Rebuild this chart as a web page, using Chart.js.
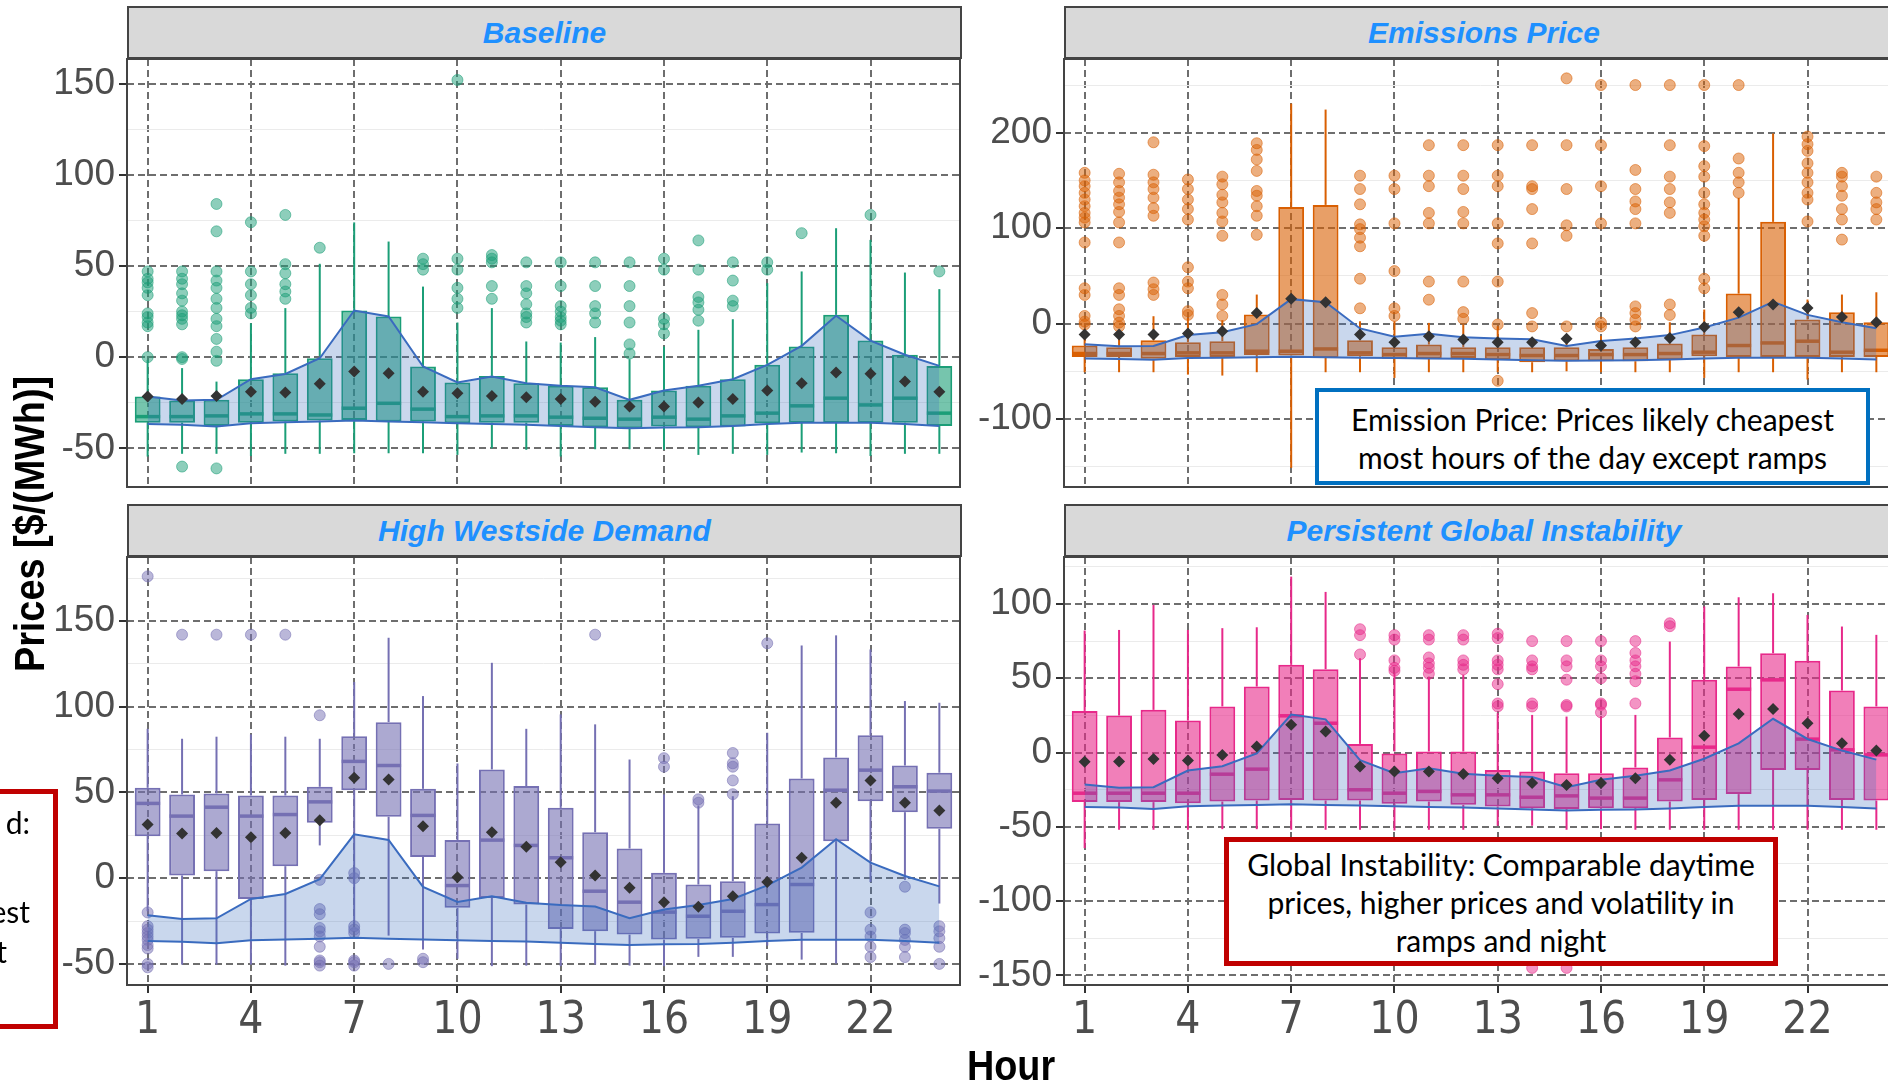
<!DOCTYPE html>
<html>
<head>
<meta charset="utf-8">
<script src="https://cdn.jsdelivr.net/npm/chart.js@4.4.1/dist/chart.umd.min.js"></script>
<style>
  html, body { margin: 0; padding: 0; background: #fff; }
  body { width: 1888px; height: 1086px; overflow: hidden; position: relative; font-family: 'Liberation Sans', Arial, sans-serif; }
  .panel { position: absolute; }
  .strip { position: absolute; height: 53px; background: #d9d9d9; border: 2px solid #444; box-sizing: border-box;
           text-align: center; font: italic bold 30px 'Liberation Sans', Arial, sans-serif; line-height: 49px; color: #1e90ff; }
  .note { position: absolute; background: #fff; box-sizing: border-box; text-align: center; color: #000;
          font: 30px Lato, 'Open Sans', sans-serif; line-height: 38px; }
  .frag { position: absolute; font: 30px Lato, 'Open Sans', sans-serif; line-height: 38px; color: #000; white-space: nowrap; }
  .axtitle { position: absolute; font: bold 42px 'Liberation Sans', Arial, sans-serif; color: #000; white-space: nowrap; }
</style>
</head>
<body>

<div class="strip" style="left:127px;top:6px;width:835px;">Baseline</div>
<div class="strip" style="left:1064px;top:6px;width:840px;">Emissions Price</div>
<div class="strip" style="left:127px;top:504px;width:835px;">High Westside Demand</div>
<div class="strip" style="left:1064px;top:504px;width:840px;">Persistent Global Instability</div>

<div class="panel" style="left:0px;top:57px;width:963px;height:432px;"><canvas id="c-base"></canvas></div>
<div class="panel" style="left:937px;top:57px;width:963px;height:432px;"><canvas id="c-emis"></canvas></div>
<div class="panel" style="left:0px;top:555px;width:963px;height:500px;"><canvas id="c-hwd"></canvas></div>
<div class="panel" style="left:937px;top:555px;width:963px;height:500px;"><canvas id="c-pgi"></canvas></div>

<div class="axtitle" style="left:30px;top:524px;transform:translate(-50%,-50%) rotate(-90deg) scale(0.9,1);">Prices [$/(MWh)]</div>
<div class="axtitle" style="left:1011px;top:1066px;transform:translate(-50%,-50%) scale(0.9,1);">Hour</div>

<div class="note" style="left:1315px;top:388px;width:555px;height:97px;border:4px solid #0070c0;padding-top:8px;">
  Emission Price: Prices likely cheapest<br>most hours of the day except ramps
</div>
<div class="note" style="left:1224px;top:837px;width:554px;height:129px;border:5px solid #c00000;padding-top:3px;">
  Global Instability: Comparable daytime<br>prices, higher prices and volatility in<br>ramps and night
</div>
<div class="note" style="left:-20px;top:789px;width:78px;height:240px;border:5px solid #c00000;background:transparent;"></div>
<div class="frag" style="right:1858px;top:803px;">d:</div>
<div class="frag" style="right:1858px;top:892px;">est</div>
<div class="frag" style="right:1881px;top:932px;">t</div>

<script>
// ---- data ----
var HOURS = [1,2,3,4,5,6,7,8,9,10,11,12,13,14,15,16,17,18,19,20,21,22,23,24];
var HOUR_TICKS = [1,4,7,10,13,16,19,22];

// baseline reference band (same in every panel)
var BAND_HI = [-21.6,-23.8,-23.4,-12.1,-9.2,-0.6,25.6,22.3,-5.1,-13.9,-10.6,-14.3,-15.7,-16.5,-23.4,-18.3,-15.7,-12.1,-4.2,6.2,22.7,9.1,1.3,-4.8];
var BAND_LO = [-36.6,-37.1,-38,-36.2,-35.7,-35.3,-34.8,-35.3,-35.7,-36.2,-36.6,-37,-37.7,-38.4,-39,-38.6,-38.4,-37.7,-36.6,-35.9,-35.9,-35.9,-36.6,-37.7];

// Baseline
var BASE_Q1   = [-35.9,-35.9,-37.7,-35.9,-35.3,-34.8,-34.4,-35.3,-35.3,-36.2,-35.9,-35.9,-37.7,-38.4,-39,-38,-38.4,-38,-36.2,-35.9,-35.9,-35.9,-35.9,-37.7];
var BASE_MED  = [-32.6,-32.6,-32.2,-31.1,-31.1,-31.7,-28,-25.3,-28.5,-32.6,-32.2,-32.2,-32.9,-33.5,-34,-32.9,-34,-32.2,-30.7,-26.7,-22.5,-26.2,-22.5,-30.7];
var BASE_Q3   = [-21.6,-23.8,-23.4,-12.1,-8.8,0,25.6,22.3,-5.1,-13.9,-10.3,-14.3,-15.7,-16.5,-23.4,-18.3,-15.7,-12.1,-4.2,5.8,23.2,9.1,1.3,-4.8];
var BASE_LO   = [-54.5,-53,-53,-54.2,-53,-53,-52.7,-52.7,-52.7,-53.6,-50,-50.8,-54.5,-50.5,-50.5,-50.8,-53.6,-53,-53.6,-52.3,-52.7,-54.2,-53,-53];
var BASE_HI   = [-1.5,-6,-13.4,18.6,26.9,51.2,73.9,63.4,38.7,19,26.9,8.6,8,11,-1.1,5.8,15,20.8,40.6,47,70.7,64.3,46.4,37.3];
var BASE_MEAN = [-21.6,-23,-21.3,-18.9,-19.4,-14.6,-7.9,-8.8,-18.9,-19.8,-21.3,-22,-23,-24.4,-27.1,-27.1,-24.9,-23,-18.3,-14.3,-8.4,-9.1,-13.4,-18.9];
var BASE_OUT  = [
  [0,17,19,22,24,34,38,41,43,47], [-60,-1,0,18,21,23,25,31,35,40,43,47], [-61,-2,3,10,17,21,27,32,38,42,47,69,84],
  [24,27,34,40,47,74], [32,36,40,46,51,78], [60], [], [], [48,51,54], [27,32,38,48,54,152], [32,39,52,54,56],
  [19,22,24,29,35,39,52], [18,20,22,25,28,39,52], [19,24,28,39,52], [2,7,19,28,39,52], [13,18,21,48,54],
  [20,26,30,33,48,64], [28,31,42,52], [48,52], [68], [], [78], [], [47]
];

// Emissions Price
var EMIS_Q1   = [-35,-35,-37,-35,-35,-33,-33.5,-36,-34.2,-37,-37,-36,-37.7,-40.5,-39.5,-39.5,-39.5,-37.7,-34.2,-35,-35,-35,-35,-35];
var EMIS_MED  = [-31.4,-31.4,-31.4,-30.7,-30.7,-29,-29,-26.6,-30.7,-32.5,-31.4,-31.4,-32.5,-33.5,-33.5,-32.5,-32.5,-31.4,-30,-23,-20.3,-18.5,-30,-28];
var EMIS_Q3   = [-23,-24.8,-17.5,-19.6,-18.5,9.4,122.3,124.4,-17.5,-24.8,-22,-24.8,-24.8,-24.8,-24.8,-26.6,-24.8,-21,-11.5,31.4,106.6,4.2,11.9,1.4];
var EMIS_LO   = [-51,-51,-51,-53.5,-54.5,-51,-151.3,-51,-51,-57,-51,-51,-51,-51,-50,-51,-51,-51,-57,-51,-51,-58.7,-51,-51];
var EMIS_HI   = [-6,-13,7.7,6,3.5,30.4,230.6,224.3,2.4,2.4,0.7,-1,-2.8,-16,-16,-13,-15,1.4,14.7,131.7,199.2,25.2,30.4,32.8];
var EMIS_MEAN = [-11.5,-11.5,-11.5,-10.5,-8,11.2,25.9,22.4,-11.5,-19.6,-13.3,-16.8,-19.6,-19.6,-16,-23,-19.6,-15,-3.5,11.9,19.9,16.4,7,1.4];
var EMIS_OUT  = [
  [-1,2,8,30,37,85,106,111,116,123,130,137,144,150,158], [-3,1,8,15,30,37,85,106,117,125,132,139,148,157],
  [30,36,43,113,121,132,141,148,156,190], [9,13,37,44,59,109,120,130,141,151], [8,20,30,92,107,116,127,135,146,154],
  [93,113,123,134,139,160,172,182,189], [], [], [16,47,81,90,99,104,125,141,155], [8,16,55,105,141,155],
  [25,44,105,116,144,155,187], [5,12,44,105,117,141,155,187], [-60,-1,44,84,105,144,155,187], [-3,11,84,120,141,144,187],
  [-3,92,103,141,187,257], [-3,1,105,144,187,250], [-3,4,11,18,105,120,128,141,161,250], [9,20,116,127,141,154,187,250],
  [37,47,92,102,109,116,125,137,154,165,186,250], [137,148,158,173,250], [], [107,130,137,148,158,168,181,188,196],
  [88,109,120,134,144,154,158], [109,120,127,137,154]
];

// High Westside Demand
var HWD_Q1   = [24.5,1.6,4.1,-12.1,7,32.3,51.3,35.8,12.4,-17.3,-11.5,-15.4,-29.6,-30.9,-32.9,-35.8,-35.4,-34.8,-32.3,-31.9,21.6,44.9,38.5,28.8];
var HWD_MED  = [43.6,36.2,41.4,36.2,37.1,44.5,68.1,65.7,36.6,-4.3,22.2,19.1,11.9,-7.6,-14,-19.8,-22.2,-19.3,-15.4,-3.7,51.3,63,53.3,50.8];
var HWD_Q3   = [52.7,48.8,49.4,48.2,48.2,53.3,82.8,91,52.1,22.2,63.4,53.7,41,26.8,17.3,3.1,-3.7,-1.8,31.9,58.1,70.4,83.4,65.7,61.5];
var HWD_LO   = [-19.3,-50.4,-50.4,-50.4,-51,19.1,-27,-33.5,-41.6,-47,-51.3,-51,-51.3,-50.4,-51,-51.3,-45.9,-45.9,-39.3,-47.5,-49.8,-2.3,-1,-14.8];
var HWD_HI   = [87.1,81.3,82.5,83.8,82.5,81.3,114.4,140.2,106.2,66.9,125.6,87.1,95.5,89.7,69.2,48.8,42.4,47.8,84.8,135.7,141.6,133.4,103.3,102.3];
var HWD_MEAN = [31.3,26.1,26.4,23.9,26.4,33.8,58.5,57.6,30.3,0.6,26.8,18.3,9.3,1.6,-5.6,-14,-16.7,-10.5,-2.3,11.9,44,57,44,39.5];
var HWD_OUT  = [
  [176,-20,-28,-30,-32,-34,-36,-39,-41,-50,-52], [142], [142], [142], [142],
  [95,-1,-18,-21,-29,-31,-34,-40,-48,-49,-51], [3,0,-28,-30,-32,-48,-49,-51], [-50], [-47,-49],
  [], [], [], [], [142], [], [70,65], [46,44], [73,67,65,57,49], [137], [], [],
  [-20,-30,-34,-40,-46], [-5,-30,-32,-36,-40,-46], [-28,-31,-35,-40,-50]
];

// Persistent Global Instability
var PGI_Q1   = [-33.4,-33.4,-33.4,-34.1,-33,-32.3,-31.9,-32.3,-32.3,-34.5,-33,-35.2,-36.3,-37.5,-38.1,-37.5,-37.5,-33,-31.9,-28,-11.7,-11.7,-31.9,-32.3];
var PGI_MED  = [-27.4,-27.4,-27.4,-27.4,-14.6,-11.2,24.7,19.7,-25.1,-27.4,-26.2,-28.5,-28.5,-30.1,-29.2,-30.7,-30.7,-18.4,3.6,42.6,48.9,9,1.8,-1.6];
var PGI_Q3   = [28,24.9,28.7,21.5,31,44.4,59,56.1,5.8,0,0.7,0.7,-11.7,-12.8,-13.9,-13.9,-10.1,10.1,48.9,57.9,66.8,61.7,41.7,31];
var PGI_LO   = [-64.4,-52,-52,-52,-51.6,-51.6,-52,-52,-52,-52.5,-52,-52,-49.3,-49.3,-52,-51.6,-52,-52,-52,-52,-52,-52,-52,-52];
var PGI_HI   = [82.1,82.5,99.4,82.5,83.7,84.3,118.4,108.1,63.5,53.4,51.1,52.3,26.5,25.3,24.2,24.2,25.3,74.7,98.3,104.5,107.2,92.6,84.8,79.2];
var PGI_MEAN = [-6.3,-6.1,-4.3,-5.4,-1.6,4,18.6,14.1,-9.4,-12.8,-12.8,-14.4,-17.3,-20.6,-21.8,-20.6,-17.3,-4.9,11.2,26,29.2,19.7,6.3,1.3];
var PGI_OUT  = [
  [], [], [], [], [], [], [], [],
  [66,79,83], [55,57,62,76,79], [53,57,60,64,76,79], [56,59,62,76,79], [31,33,46,56,59,62,77,80],
  [-145,31,33,56,58,62,75], [-145,31,32,49,58,62,75], [27,32,33,50,58,62,75], [33,48,53,58,62,67,75], [85,87],
  [], [], [], [], [], []
];

// y axes
var BASE_YTICKS = [-50,0,50,100,150],        BASE_YMINOR = [-25,25,75,125];
var EMIS_YTICKS = [-100,0,100,200],          EMIS_YMINOR = [-150,-50,50,150,250];
var HWD_YTICKS  = [-50,0,50,100,150],        HWD_YMINOR  = [-25,25,75,125,175];
var PGI_YTICKS  = [-150,-100,-50,0,50,100],  PGI_YMINOR  = [-125,-75,-25,25,75,125];

// ---- styles ----
var BAND_FILL = 'rgba(60,110,190,0.28)';
var BAND_LINE = '#3a6bbf';
var MEAN_COLOR = '#333333';
var GRID_MAJOR = '#6e6e6e';
var GRID_MINOR = '#ebebeb';
var TICK_COLOR = '#4d4d4d';
var Y_AXIS_W = 127;

function alpha(hex, a) {
  var n = parseInt(hex.slice(1), 16);
  return 'rgba(' + (n >> 16 & 255) + ',' + (n >> 8 & 255) + ',' + (n & 255) + ',' + a + ')';
}
function pts(arr) { return HOURS.map(function(h, i) { return { x: h, y: arr[i] }; }); }
function spans(a, b) { return HOURS.map(function(h, i) { return { x: h, y: [a[i], b[i]] }; }); }
function outPts(list) {
  var res = [];
  list.forEach(function(vals, i) { vals.forEach(function(v) { res.push({ x: HOURS[i], y: v }); }); });
  return res;
}
// no label overflow padding: plot area sits exactly where the layout puts it
function noPad(s) { s.paddingTop = 0; s.paddingBottom = 0; s.paddingLeft = 0; s.paddingRight = 0; }

var panelBorder = {
  id: 'panelBorder',
  afterDraw: function(chart) {
    var a = chart.chartArea, c = chart.ctx;
    c.save();
    c.strokeStyle = '#444';
    c.lineWidth = 2;
    c.strokeRect(a.left, a.top, a.right - a.left, a.bottom - a.top);
    c.restore();
  }
};

function makePanel(id, p) {
  var color = p.color;
  var datasets = [
    { type: 'line', data: pts(p.mean), showLine: false, pointStyle: 'rectRot', pointRadius: 6,
      pointBackgroundColor: MEAN_COLOR, pointBorderWidth: 0, order: 1 },
    { type: 'line', data: pts(BAND_HI), borderColor: BAND_LINE, borderWidth: 2, pointRadius: 0,
      tension: 0, fill: '+1', backgroundColor: BAND_FILL, order: 2 },
    { type: 'line', data: pts(BAND_LO), borderColor: BAND_LINE, borderWidth: 2, pointRadius: 0,
      tension: 0, fill: false, order: 3 },
    { type: 'line', data: pts(p.med), showLine: false, pointStyle: 'line', pointRadius: 12.5,
      pointBorderColor: color, pointBorderWidth: 3.5, order: 4 },
    { type: 'line', data: outPts(p.out), showLine: false, pointStyle: 'circle', pointRadius: 5.5,
      pointBackgroundColor: alpha(color, 0.5), pointBorderColor: alpha(color, 0.55), pointBorderWidth: 1, order: 5 },
    { type: 'bar', data: spans(p.q1, p.q3), backgroundColor: alpha(color, 0.6), borderColor: color,
      borderWidth: 2, borderSkipped: false, grouped: false, barPercentage: 0.75, categoryPercentage: 1, order: 6 },
    { type: 'bar', data: spans(p.lo, p.q1), backgroundColor: color, borderWidth: 0, grouped: false,
      maxBarThickness: 2, order: 7 },
    { type: 'bar', data: spans(p.q3, p.hi), backgroundColor: color, borderWidth: 0, grouped: false,
      maxBarThickness: 2, order: 7 }
  ];

  new Chart(document.getElementById(id), {
    type: 'bar',
    data: { datasets: datasets },
    plugins: [panelBorder],
    options: {
      responsive: true,
      maintainAspectRatio: false,
      animation: false,
      events: [],
      layout: { autoPadding: false, padding: { left: 0, right: 3, top: 2, bottom: p.showX ? 0 : 2 } },
      plugins: { legend: { display: false }, tooltip: { enabled: false } },
      scales: {
        x: {
          type: 'linear', min: 0.4, max: 24.6, offset: false,
          grid: { offset: false, color: GRID_MAJOR, lineWidth: 2, drawTicks: p.showX,
                  tickLength: 8, tickColor: '#333', tickWidth: 2, tickBorderDash: [] },
          border: { display: false, dash: [7, 4] },
          ticks: { display: p.showX, autoSkip: false, maxRotation: 0, padding: 2, color: TICK_COLOR,
                   font: { family: "'Liberation Sans Narrow', 'DejaVu Sans Condensed', sans-serif", size: 44 } },
          afterBuildTicks: function(s) { s.ticks = HOUR_TICKS.map(function(v) { return { value: v }; }); },
          afterFit: function(s) { s.height = p.showX ? 70 : 0; noPad(s); }
        },
        y: {
          type: 'linear', position: 'left', min: p.ymin, max: p.ymax,
          grid: { color: GRID_MAJOR, lineWidth: 2, drawTicks: true, tickLength: 8,
                  tickColor: '#333', tickWidth: 2, tickBorderDash: [] },
          border: { display: false, dash: [7, 4] },
          ticks: { padding: 4, color: TICK_COLOR, font: { family: "'Liberation Sans', Arial, sans-serif", size: 37 },
                   callback: function(v) { return String(v); } },
          afterBuildTicks: function(s) { s.ticks = p.yticks.map(function(v) { return { value: v }; }); },
          afterFit: function(s) { s.width = Y_AXIS_W; noPad(s); }
        },
        ym: {
          type: 'linear', position: 'left', min: p.ymin, max: p.ymax,
          grid: { color: GRID_MINOR, lineWidth: 1, drawTicks: false },
          border: { display: false },
          ticks: { display: false },
          afterBuildTicks: function(s) { s.ticks = p.yminor.map(function(v) { return { value: v }; }); },
          afterFit: function(s) { s.width = 0; noPad(s); }
        }
      }
    }
  });
}

makePanel('c-base', { color: '#1b9e77', q1: BASE_Q1, med: BASE_MED, q3: BASE_Q3, lo: BASE_LO, hi: BASE_HI,
  mean: BASE_MEAN, out: BASE_OUT, ymin: -71.2, ymax: 163.5, yticks: BASE_YTICKS, yminor: BASE_YMINOR, showX: false });
makePanel('c-emis', { color: '#d95f02', q1: EMIS_Q1, med: EMIS_MED, q3: EMIS_Q3, lo: EMIS_LO, hi: EMIS_HI,
  mean: EMIS_MEAN, out: EMIS_OUT, ymin: -171.3, ymax: 277.3, yticks: EMIS_YTICKS, yminor: EMIS_YMINOR, showX: false });
makePanel('c-hwd', { color: '#7570b3', q1: HWD_Q1, med: HWD_MED, q3: HWD_Q3, lo: HWD_LO, hi: HWD_HI,
  mean: HWD_MEAN, out: HWD_OUT, ymin: -62.3, ymax: 187.3, yticks: HWD_YTICKS, yminor: HWD_YMINOR, showX: true });
makePanel('c-pgi', { color: '#e7298a', q1: PGI_Q1, med: PGI_MED, q3: PGI_Q3, lo: PGI_LO, hi: PGI_HI,
  mean: PGI_MEAN, out: PGI_OUT, ymin: -156.5, ymax: 131.6, yticks: PGI_YTICKS, yminor: PGI_YMINOR, showX: true });
</script>
</body>
</html>
